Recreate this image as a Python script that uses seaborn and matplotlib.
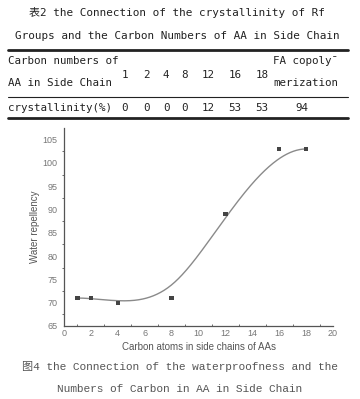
import numpy as np
import pandas as pd
import matplotlib
matplotlib.use("Agg")
import matplotlib.pyplot as plt
from matplotlib.lines import Line2D
import seaborn as sns

# ---- data ----
carbon_atoms = [1, 2, 4, 8, 12, 16, 18]
water_repellency = [71, 71, 70, 71, 89, 103, 103]

table_carbon = ["1", "2", "4", "8", "12", "16", "18"]
table_cryst = ["0", "0", "0", "0", "12", "53", "53"]
fa_cryst = "94"

title_lines = ["表2 the Connection of the crystallinity of Rf",
               "Groups and the Carbon Numbers of AA in Side Chain"]
caption_lines = ["图4 the Connection of the waterproofness and the",
                 "Numbers of Carbon in AA in Side Chain"]


def bspline(ctrl_x, ctrl_y, k=3, n=300):
    """Clamped B-spline (Origin-style smooth) through given control points."""
    P = np.column_stack([ctrl_x, ctrl_y]).astype(float)
    m = len(P)
    inner = np.linspace(0, 1, m - k + 1)
    t = np.concatenate([[0] * k, inner, [1] * k])
    u = np.linspace(0, 1, n)
    u[-1] = 1 - 1e-12

    def basis(i, p, uu):
        if p == 0:
            return ((t[i] <= uu) & (uu < t[i + 1])).astype(float)
        a = np.zeros_like(uu)
        b = np.zeros_like(uu)
        if t[i + p] != t[i]:
            a = (uu - t[i]) / (t[i + p] - t[i]) * basis(i, p - 1, uu)
        if t[i + p + 1] != t[i + 1]:
            b = (t[i + p + 1] - uu) / (t[i + p + 1] - t[i + 1]) * basis(i + 1, p - 1, uu)
        return a + b

    B = np.column_stack([basis(i, k, u) for i in range(m)])
    C = B @ P
    return C[:, 0], C[:, 1]


sx, sy = bspline(carbon_atoms, water_repellency)
df_pts = pd.DataFrame({"x": carbon_atoms, "y": water_repellency})
df_curve = pd.DataFrame({"x": sx, "y": sy})

sns.set_style("white")
plt.rcParams["font.family"] = ["Liberation Sans", "Noto Sans CJK SC"]

W, H = 360, 399
fig = plt.figure(figsize=(W / 100, H / 100), dpi=100)
fig.patch.set_facecolor("white")

def fx(px):
    return px / W

def fy(py):
    return 1 - py / H

mono = ["DejaVu Sans Mono", "Noto Sans CJK SC"]
tcol = "#222222"

# title
fig.text(fx(177), fy(13), title_lines[0], ha="center", va="center",
         family=mono, fontsize=7.9, color=tcol)
fig.text(fx(177), fy(36), title_lines[1], ha="center", va="center",
         family=mono, fontsize=7.9, color=tcol)

# table rules
for py, lw in [(50, 2.0), (97, 0.8), (118, 2.0)]:
    fig.add_artist(Line2D([fx(8), fx(348)], [fy(py), fy(py)],
                          transform=fig.transFigure, color="#222222", lw=lw))

fs_tab = 7.8
fig.text(fx(8), fy(61), "Carbon numbers of", ha="left", va="center",
         family=mono, fontsize=fs_tab, color=tcol)
fig.text(fx(8), fy(83), "AA in Side Chain", ha="left", va="center",
         family=mono, fontsize=fs_tab, color=tcol)
col_x = [125, 146, 166, 184, 208, 235, 262]
for cx, lab in zip(col_x, table_carbon):
    fig.text(fx(cx), fy(75), lab, ha="center", va="center",
             family=mono, fontsize=fs_tab, color=tcol)
fig.text(fx(273), fy(61), "FA copoly¯", ha="left", va="center",
         family=mono, fontsize=fs_tab, color=tcol)
fig.text(fx(273), fy(83), "merization", ha="left", va="center",
         family=mono, fontsize=fs_tab, color=tcol)
fig.text(fx(8), fy(108), "crystallinity(%)", ha="left", va="center",
         family=mono, fontsize=fs_tab, color=tcol)
for cx, lab in zip(col_x, table_cryst):
    fig.text(fx(cx), fy(108), lab, ha="center", va="center",
             family=mono, fontsize=fs_tab, color=tcol)
fig.text(fx(302), fy(108), fa_cryst, ha="center", va="center",
         family=mono, fontsize=fs_tab, color=tcol)

# chart
ax = fig.add_axes([fx(64), fy(326), fx(333) - fx(64), fy(128) - fy(326)])
ax.set_facecolor("white")
sns.lineplot(data=df_curve, x="x", y="y", ax=ax, color="#8a8a8a", lw=1.0,
             sort=False, zorder=2)
sns.scatterplot(data=df_pts, x="x", y="y", ax=ax, marker="s", s=10,
                color="#444444", edgecolor="none", zorder=3)

ax.set_xlim(0, 20)
ax.set_ylim(65, 107.5)
ax.set_xticks(range(0, 21, 2))
ax.set_xticks(range(0, 21, 1), minor=True)
ax.set_yticks(range(65, 106, 5))
ax.set_yticks(np.arange(67.5, 107.5, 5), minor=True)
for s in ["top", "right"]:
    ax.spines[s].set_visible(False)
for s in ["left", "bottom"]:
    ax.spines[s].set_color("#555555")
    ax.spines[s].set_linewidth(0.9)
ax.tick_params(axis="y", which="major", direction="out", length=3, width=0.8,
               color="#555555", labelsize=6.5, labelcolor="#777777", pad=1.5)
ax.tick_params(axis="y", which="minor", direction="out", length=1.5, width=0.6,
               color="#555555", left=True)
ax.tick_params(axis="x", which="major", direction="in", length=3, width=0.8,
               color="#555555", labelsize=6.5, labelcolor="#777777", pad=2)
ax.tick_params(axis="x", which="minor", direction="in", length=1.5, width=0.6,
               color="#555555", bottom=True)
ax.set_xlabel("Carbon atoms in side chains of AAs", fontsize=7, color="#555555",
              labelpad=3)
ax.set_ylabel("Water repellency", fontsize=7, color="#555555", labelpad=2)

# caption
serif_mono = ["Liberation Mono", "Noto Sans CJK SC"]
fig.text(fx(180), fy(366), caption_lines[0], ha="center", va="center",
         family=serif_mono, fontsize=8.0, color="#555555")
fig.text(fx(180), fy(389), caption_lines[1], ha="center", va="center",
         family=serif_mono, fontsize=8.0, color="#555555")

fig.savefig("out.png", dpi=100, facecolor="white")
